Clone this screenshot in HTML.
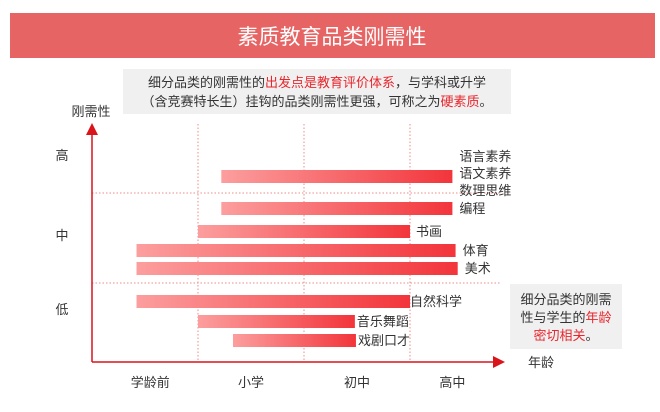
<!DOCTYPE html>
<html><head><meta charset="utf-8"><style>
body{margin:0;width:660px;height:407px;background:#fff;overflow:hidden;font-family:"Liberation Sans","Noto Sans CJK SC",sans-serif;}
svg text{font-family:"Liberation Sans","Noto Sans CJK SC",sans-serif;}
</style></head><body>
<svg width="660" height="407" viewBox="0 0 660 407">
<defs>
<linearGradient id="g" x1="0" x2="1" y1="0" y2="0"><stop offset="0" stop-color="#fc9e9e"/><stop offset="1" stop-color="#f2353b"/></linearGradient>
<marker id="ah" markerWidth="8" markerHeight="8" refX="6" refY="4" orient="auto"><path d="M0,0 L8,4 L0,8 z" fill="#d9141b"/></marker>
</defs>
<rect x="10" y="13" width="645" height="45" fill="#e66464"/>
<text x="332" y="44" font-size="21" fill="#fff" text-anchor="middle">素质教育品类刚需性</text>
<rect x="123" y="69" width="388" height="45" fill="#f0f0f0"/>
<text x="317" y="87" font-size="13" fill="#333" text-anchor="middle">细分品类的刚需性的<tspan fill="#e8262d">出发点是教育评价体系</tspan>，与学科或升学</text>
<text x="317" y="106" font-size="13" fill="#333" text-anchor="middle">（含竞赛特长生）挂钩的品类刚需性更强，可称之为<tspan fill="#e8262d">硬素质</tspan>。</text>
<rect x="510" y="284" width="112" height="65" fill="#f0f0f0"/>
<text x="566" y="304" font-size="13" fill="#333" text-anchor="middle">细分品类的刚需</text>
<text x="566" y="322" font-size="13" fill="#333" text-anchor="middle">性与学生的<tspan fill="#e8262d">年龄</tspan></text>
<text x="566" y="340" font-size="13" fill="#e8262d" text-anchor="middle">密切相关<tspan fill="#333">。</tspan></text>
<text x="91" y="116" font-size="13" fill="#333" text-anchor="middle">刚需性</text>
<text x="528" y="367" font-size="13" fill="#333">年龄</text>
<g id="grid"></g><g id="bars"></g><g id="labels"></g>
<line x1="92" y1="362" x2="92" y2="126" stroke="#d9141b" stroke-width="1.5" marker-end="url(#ah)"/>
<line x1="92" y1="362" x2="502" y2="362" stroke="#d9141b" stroke-width="1.5" marker-end="url(#ah)"/>
</svg>
<script>
const stages = ["学龄前","小学","初中","高中"];
const stagePos = [0.55, 1.5, 2.5, 3.4];
const levels = ["高","中","低"];
const levelY = [160, 240, 314];
const categories = ["语言素养/语文素养/数理思维","编程","书画","体育","美术","自然科学","音乐舞蹈","戏剧口才"];
const startVals = [1.22, 1.22, 1.0, 0.42, 0.42, 0.42, 1.0, 1.33];
const endVals = [3.4, 3.4, 3.0, 3.43, 3.45, 3.0, 2.48, 2.49];
const NS="http://www.w3.org/2000/svg";
const xs = v => 92 + v*106;
const rowY = i => [170,202,225,244,262,295,315,334][i];
function mk(t,a,p){const e=document.createElementNS(NS,t);for(const k in a)e.setAttribute(k,a[k]);p.appendChild(e);return e;}
const grid=document.getElementById('grid'),bars=document.getElementById('bars'),labels=document.getElementById('labels');
[1,2,3].forEach(v=>{const l=mk('line',{x1:xs(v),x2:xs(v),y1:124,y2:362,stroke:'#f08a8a','stroke-dasharray':'1.5,2','stroke-width':1},grid);

});
[193,283].forEach(y=>{const l=mk('line',{x1:92,x2:500,y1:y,y2:y,stroke:'#f08a8a','stroke-dasharray':'1.5,2','stroke-width':1},grid);

});
stages.forEach((s,i)=>{const t=mk('text',{x:xs(stagePos[i]),y:387,'font-size':13,fill:'#333','text-anchor':'middle'},labels);t.textContent=s;

});
levels.forEach((s,i)=>{const t=mk('text',{x:62,y:levelY[i],'font-size':13,fill:'#333','text-anchor':'middle'},labels);t.textContent=s;

});
categories.forEach((c,i)=>{const x0=xs(startVals[i]),x1=xs(endVals[i]),y=rowY(i);
const r=mk('rect',{x:x0,y:y,width:x1-x0,height:13,fill:'url(#g)'},bars);


const parts=c.split('/');
const lx = x1 + (i===5 ? 0 : (i===2 ? 6 : (i<5 ? 7 : 2)));
parts.forEach((p,j)=>{const yy = parts.length>1 ? y-14+j*17+5 : y+11;
const t=mk('text',{x:lx,y:yy,'font-size':13,fill:'#333'},labels);t.textContent=p;

});});
</script>
</body></html>
